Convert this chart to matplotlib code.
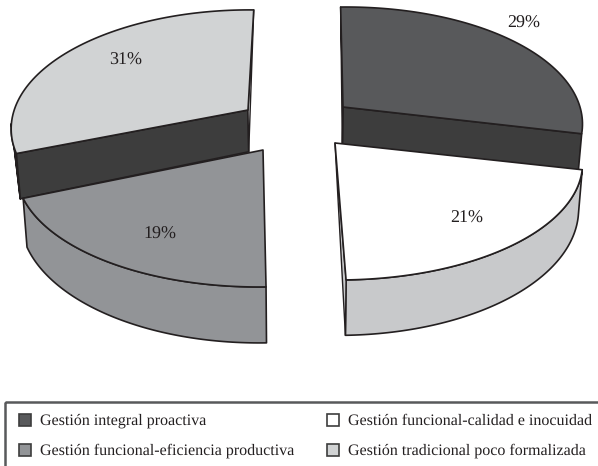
import numpy as np
import matplotlib
matplotlib.use('Agg')
import matplotlib.pyplot as plt
from matplotlib.patches import Polygon, Rectangle

categories = ['Gestión integral proactiva', 'Gestión funcional-calidad e inocuidad',
              'Gestión funcional-eficiencia productiva', 'Gestión tradicional poco formalizada']
shares = [29, 21, 19, 31]

# look of each slice
top_colors = ['#58595b', '#ffffff', '#929497', '#d1d3d4']
wall_colors = ['#3d3d3d', '#c8c9cb', '#929497', '#3d3d3d']
rim_colors = ['#4a4a4c', '#c8c9cb', '#929497', '#d1d3d4']
apex = [(343, 107), (335, 143), (263, 150), (248, 110)]
radius_x = [237, 244, 243, 232]
lean = [3, -3.5, 4.5, 11]
shear = [0, 0, 0, 0.021]
label_pos = [(524, 23), (467, 218), (160, 234), (126, 60)]
legend_pos = [(19, 420), (327, 420), (19, 450), (327, 450)]

EDGE = '#231f20'
START = -1.5    # rotation of the first slice, degrees
RY = 115.6      # vertical radius before foreshortening
K = 0.156       # foreshortening, back of the pie is flatter than the front


def rim(i, theta):
    t = np.radians(theta)
    s, c = np.sin(t), np.cos(t)
    d = 1 + K * c
    dx = radius_x[i] * s / d
    x = apex[i][0] + dx + lean[i] * c
    y = apex[i][1] - RY * c / d + shear[i] * dx
    return np.column_stack([x, y])


def drop(pts):
    # pie thickness grows towards the viewer, lower rim pulls in towards the middle
    pts = np.asarray(pts, dtype=float)
    return pts + np.column_stack([-(pts[:, 0] - 299) * 0.014, 33 + 0.08 * pts[:, 1]])


def poly(ax, pts, color, lw=1.2):
    ax.add_patch(Polygon(pts, closed=True, facecolor=color, edgecolor=EDGE, linewidth=lw, joinstyle='round'))


plt.rcParams['font.family'] = ['Liberation Serif', 'DejaVu Serif']
plt.rcParams['text.hinting'] = 'no_hinting'
plt.rcParams['text.hinting_factor'] = 1

fig = plt.figure(figsize=(5.98, 4.66), dpi=100)
ax = fig.add_axes([0, 0, 1, 1])
ax.set_xlim(0, 598)
ax.set_ylim(466, 0)
ax.axis('off')

edges = START + np.cumsum([0] + shares) * 3.6
a0 = [edges[i] for i in range(4)]
a1 = [edges[i + 1] for i in range(4)]

# back to front so the front slices cover the walls behind them
for i in [3, 0, 2, 1]:
    th = np.linspace(a0[i], a1[i], 80)
    arc = rim(i, th)
    center = np.array([apex[i]], dtype=float)
    first, last = arc[:1], arc[-1:]

    # curved outer wall
    if i in (1, 2):
        poly(ax, np.vstack([arc, drop(arc)[::-1]]), wall_colors[i])
    if i == 3:
        part = rim(i, np.linspace(a0[i], a0[i] + 14, 20))
        poly(ax, np.vstack([part, drop(part[:1]), part[-1:]]), rim_colors[i])

    # radial cut faces that are turned to the viewer
    if i == 0:
        poly(ax, np.vstack([center, last, drop(last), drop(center)]), wall_colors[i])
        poly(ax, np.vstack([first, center, drop(center)]), rim_colors[i], lw=1.0)
    if i == 3:
        poly(ax, np.vstack([center, first, drop(first), drop(center)]), wall_colors[i])
        poly(ax, np.vstack([last, center, drop(center)]), '#e6e7e8', lw=1.0)
    if i == 1:
        poly(ax, np.vstack([center, last, drop(last)]), wall_colors[i], lw=1.0)

    poly(ax, np.vstack([center, arc]), top_colors[i])

for i, (x, y) in enumerate(label_pos):
    ax.text(x, y, f'{shares[i]}%', ha='center', va='center', fontsize=13.2, color='#231f20')

# legend frame runs off the right and bottom of the figure
ax.add_patch(Rectangle((5, 401.5), 640, 90, facecolor='none', edgecolor='#58595b', linewidth=1.8))
for i, (x, y) in enumerate(legend_pos):
    ax.add_patch(Rectangle((x, y - 6), 12, 12, facecolor=top_colors[i], edgecolor='#3d3d3d', linewidth=1.2))
    ax.text(x + 21, y + 0.5, categories[i], ha='left', va='center', fontsize=11.7, color='#231f20')

fig.savefig('out.png', dpi=100)
